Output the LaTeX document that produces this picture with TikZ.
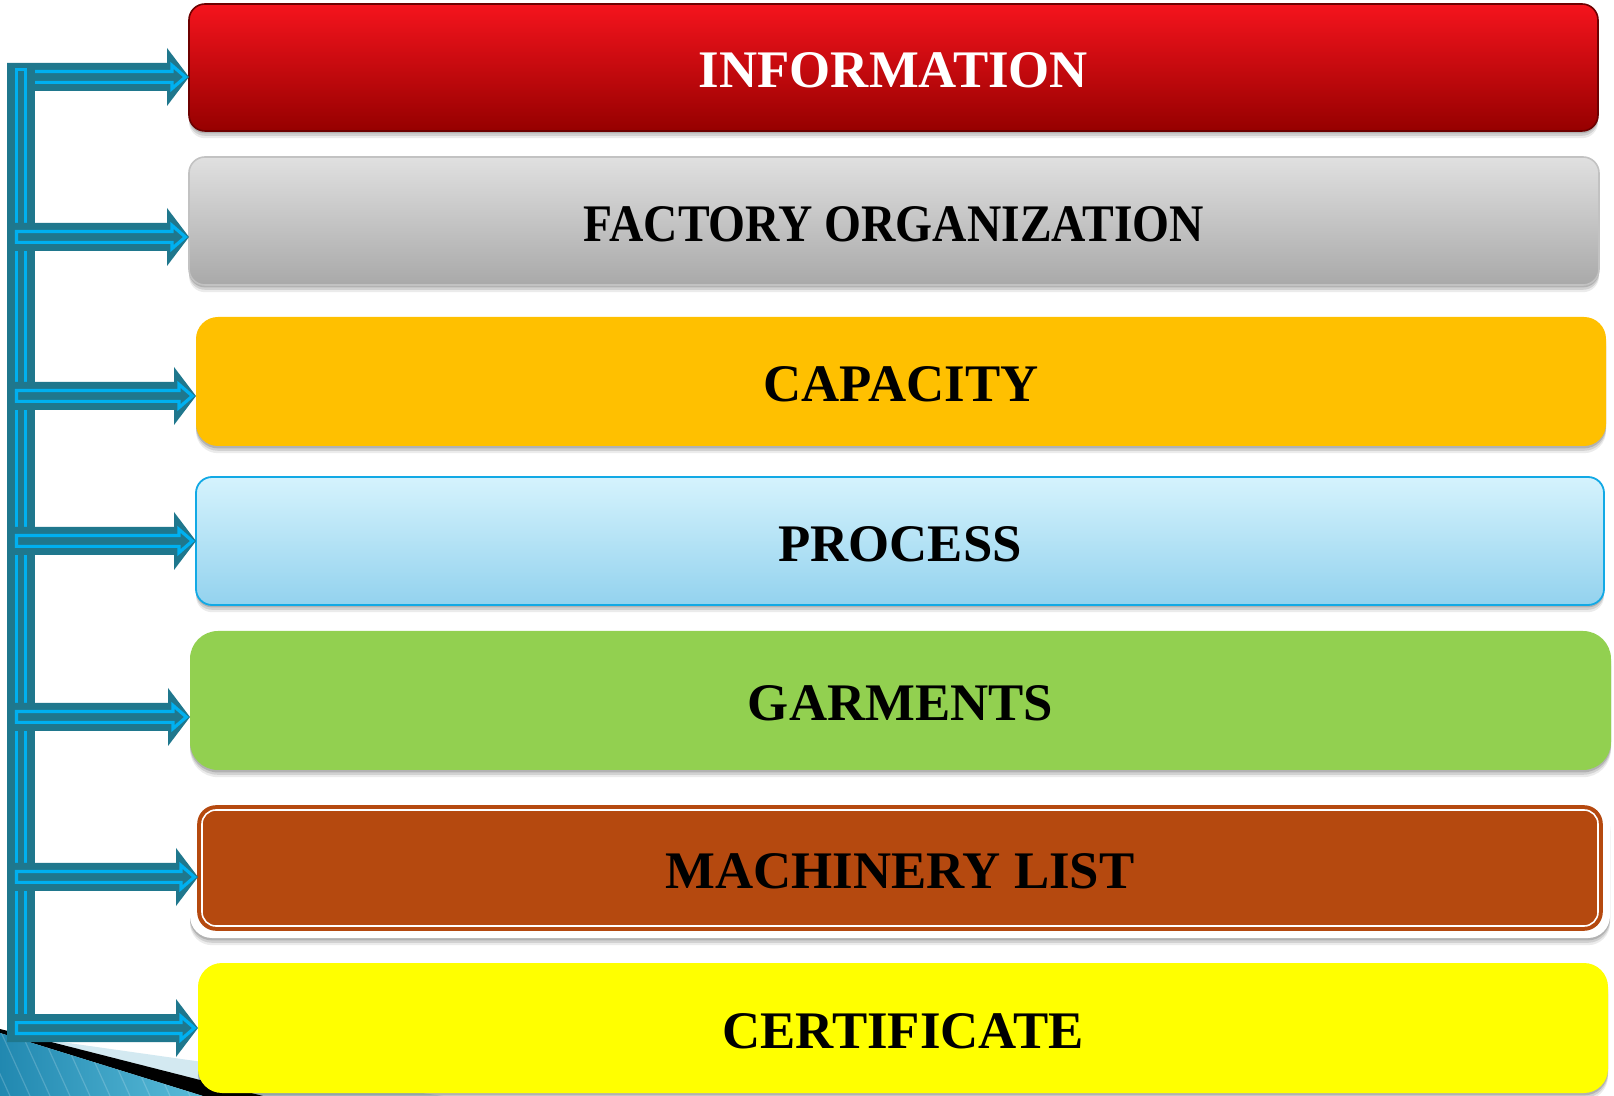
\documentclass[tikz,border=0pt]{standalone}
\usepackage{fontspec}
\setmainfont{Liberation Serif}
\usetikzlibrary{shadows,calc}
\definecolor{tealdark}{HTML}{1F778D}
\definecolor{cyanl}{HTML}{00B0F0}
\definecolor{infoTop}{HTML}{F5141D}
\definecolor{infoMid}{HTML}{D80000}
\definecolor{infoBot}{HTML}{960000}
\definecolor{infoLine}{HTML}{6E0000}
\definecolor{grayTop}{HTML}{E0E0E0}
\definecolor{grayBot}{HTML}{A9A9A9}
\definecolor{grayLine}{HTML}{C2C2C2}
\definecolor{capFill}{HTML}{FFC000}
\definecolor{procTop}{HTML}{D5F3FD}
\definecolor{procBot}{HTML}{93D2EE}
\definecolor{procLine}{HTML}{12A9E5}
\definecolor{garmFill}{HTML}{92D050}
\definecolor{machFill}{HTML}{B5490F}
\definecolor{certFill}{HTML}{FFFF00}
\definecolor{paleBlue}{HTML}{D3E9F1}
\definecolor{decoLeft}{HTML}{2188B0}
\definecolor{decoRight}{HTML}{5ABCD9}
\newcommand\feedarrow[2]{%
  \path[fill=tealdark] let \p1=(#1), \p2=(#2.west |- #1) in
    (\x1,\y1+7pt) -- (\x2-11pt,\y1+7pt) -- (\x2-11pt,\y1+14.5pt) -- (\x2,\y1)
    -- (\x2-11pt,\y1-14.5pt) -- (\x2-11pt,\y1-7pt) -- (\x1,\y1-7pt) -- cycle;
  \draw[cyanl, line width=1.6pt, line join=miter] let \p1=(#1), \p2=(#2.west |- #1) in
    (\x1+4.75pt,\y1+2.7pt) -- (\x2-8.5pt,\y1+2.7pt) -- (\x2-8.5pt,\y1+5.8pt) -- (\x2-1.8pt,\y1)
    -- (\x2-8.5pt,\y1-5.8pt) -- (\x2-8.5pt,\y1-2.7pt) -- (\x1+4.75pt,\y1-2.7pt) -- cycle;
}
\newcommand\boxtext[1]{\raisebox{-1.5pt}[\height][0pt]{#1}}
\begin{document}
\begin{tikzpicture}[x=0.5pt,y=-0.5pt,
  softshadow/.style={
    drop shadow={shadow xshift=0pt, shadow yshift=-1.2pt, opacity=0.14, fill=black},
    drop shadow={shadow xshift=0pt, shadow yshift=-2.4pt, opacity=0.11, fill=black},
    drop shadow={shadow xshift=0pt, shadow yshift=-3.6pt, opacity=0.08, fill=black}},
  boxbase/.style={inner sep=0pt, outer sep=0pt, softshadow,
    font=\fontsize{26.4pt}{30pt}\selectfont\bfseries},
]
\useasboundingbox (0,0) rectangle (1614,1096);
\fill[white] (0,0) rectangle (1614,1096);

% bottom-left slide decoration
\fill[paleBlue] (0,1029) -- (40,1039) -- (443,1096) -- (0,1096) -- cycle;
\fill[black] (0,1029) -- (263,1096) -- (203,1096) -- (0,1033) -- cycle;
\begin{scope}
  \clip (0,1033) -- (203,1096) -- (0,1096) -- cycle;
  \shade[left color=decoLeft, right color=decoRight] (0,1030) rectangle (205,1096);
  \foreach \s in {-40,-20,...,220}{
    \draw[white, opacity=0.18, line width=0.6pt] (\s,1030) -- (\s+30,1096);
  }
\end{scope}

% boxes
\node[boxbase, rounded corners=8pt, minimum width=704.5pt, minimum height=63.5pt,
  top color=infoTop, middle color=infoMid, bottom color=infoBot, draw=infoLine, line width=0.8pt,
  text=white] (b1) at (893.5,67.5) {\boxtext{INFORMATION}};
\node[boxbase, rounded corners=8pt, minimum width=705pt, minimum height=64pt,
  top color=grayTop, bottom color=grayBot, draw=grayLine, line width=0.8pt,
  text=black] (b2) at (894,221) {\boxtext{\scalebox{0.9}[1]{FACTORY ORGANIZATION}}};
\node[boxbase, rounded corners=11pt, minimum width=705pt, minimum height=64.5pt,
  fill=capFill, text=black] (b3) at (901,381.5) {\boxtext{CAPACITY}};
\node[boxbase, rounded corners=8pt, minimum width=704pt, minimum height=64pt,
  top color=procTop, bottom color=procBot, draw=procLine, line width=0.9pt,
  text=black] (b4) at (900,541) {\boxtext{PROCESS}};
\node[boxbase, rounded corners=14pt, minimum width=710.5pt, minimum height=69.5pt,
  fill=garmFill, text=black] (b5) at (900.5,700.5) {\boxtext{GARMENTS}};
\node[boxbase, rounded corners=11pt, minimum width=710pt, minimum height=68pt,
  fill=white] (b6o) at (900,870) {};
\node[inner sep=0pt, outer sep=0pt, rounded corners=9pt, minimum width=702pt, minimum height=62pt,
  fill=machFill, draw=machFill, line width=0.8pt, text=black,
  font=\fontsize{26.4pt}{30pt}\selectfont\bfseries] (b6) at (900,868) {\boxtext{MACHINERY LIST}};
\draw[white, line width=0.8pt, rounded corners=7pt]
  ($(b6.north west)+(4,4)$) rectangle ($(b6.south east)+(-4,-4)$);
\node[boxbase, rounded corners=12pt, minimum width=705pt, minimum height=65pt,
  fill=certFill, text=black] (b7) at (903,1028) {\boxtext{CERTIFICATE}};

% junctions on the vertical bar
\coordinate (j1) at (7,77);
\coordinate (j2) at (7,237);
\coordinate (j3) at (7,396);
\coordinate (j4) at (7,541);
\coordinate (j5) at (7,717);
\coordinate (j6) at (7,877);
\coordinate (j7) at (7,1028);

\feedarrow{j1}{b1}
% vertical bar
\fill[tealdark] (7,63) rectangle (35,1040);
\draw[cyanl, line width=1.5pt] (16.5,70) rectangle (25.5,1033);
\feedarrow{j2}{b2}
\feedarrow{j3}{b3}
\feedarrow{j4}{b4}
\feedarrow{j5}{b5}
\feedarrow{j6}{b6}
\feedarrow{j7}{b7}
\end{tikzpicture}
\end{document}
